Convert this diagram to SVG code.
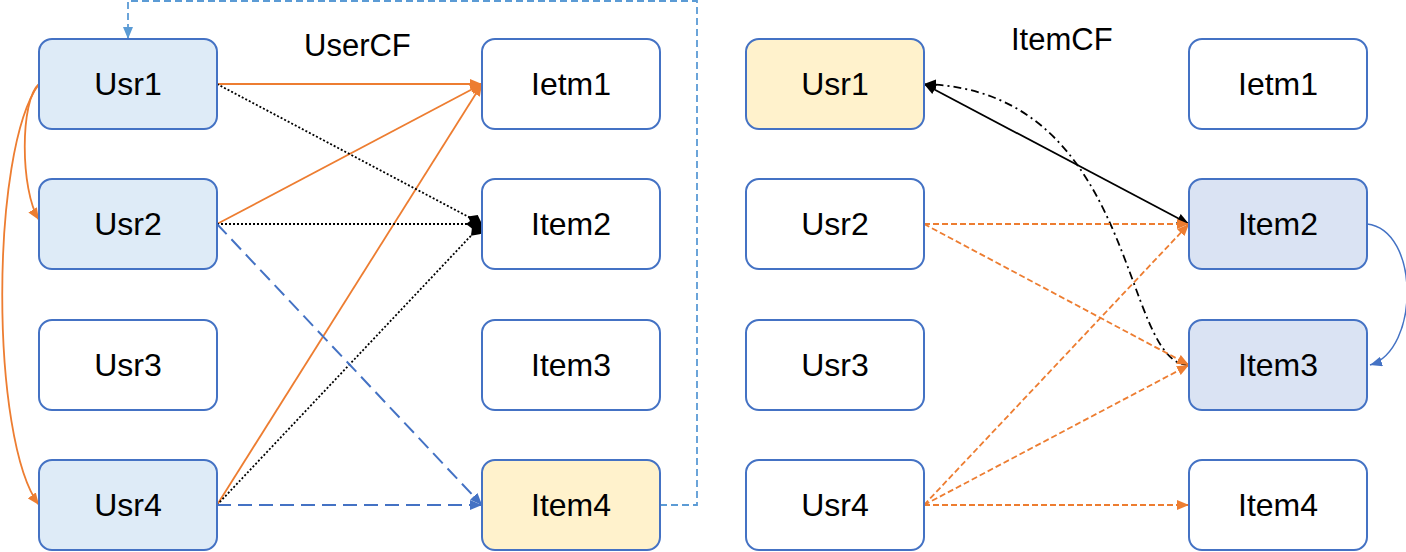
<svg xmlns="http://www.w3.org/2000/svg" width="1406" height="552" viewBox="0 0 1406 552">
<style>
.box{stroke:#4472C4;stroke-width:2}
.w{fill:#FFFFFF}.b{fill:#DEEBF7}.y{fill:#FFF2CC}.b2{fill:#DAE3F3}
.t{font-family:"Liberation Sans",Arial,sans-serif;font-size:32px;fill:#000;text-anchor:middle;dominant-baseline:central}
.ttl{font-family:"Liberation Sans",Arial,sans-serif;font-size:31px;fill:#000}
.or{stroke:#ED7D31;stroke-width:1.8;fill:none}
.ord{stroke:#ED7D31;stroke-width:1.8;fill:none;stroke-dasharray:6 3}
.dot{stroke:#000;stroke-width:1.8;fill:none;stroke-dasharray:2 2}
.bd{stroke:#4472C4;stroke-width:2;fill:none;stroke-dasharray:14 7}
.lbd{stroke:#5B9BD5;stroke-width:1.8;fill:none;stroke-dasharray:7 4}
.blk{stroke:#000;stroke-width:1.8;fill:none}
.dd{stroke:#000;stroke-width:1.8;fill:none;stroke-dasharray:8 4 2 4}
.bc{stroke:#4472C4;stroke-width:1.5;fill:none}
</style>
<defs>
<marker id="aO" viewBox="0 0 12 10" refX="12" refY="5" markerWidth="12" markerHeight="10" markerUnits="userSpaceOnUse" orient="auto"><path d="M0,0L12,5L0,10z" fill="#ED7D31"/></marker>
<marker id="aB" viewBox="0 0 12 10" refX="12" refY="5" markerWidth="12" markerHeight="10" markerUnits="userSpaceOnUse" orient="auto"><path d="M0,0L12,5L0,10z" fill="#4472C4"/></marker>
<marker id="aLB" viewBox="0 0 12 10" refX="12" refY="5" markerWidth="12" markerHeight="10" markerUnits="userSpaceOnUse" orient="auto"><path d="M0,0L12,5L0,10z" fill="#5B9BD5"/></marker>
<marker id="aK" viewBox="0 0 12 10" refX="12" refY="5" markerWidth="12" markerHeight="10" markerUnits="userSpaceOnUse" orient="auto"><path d="M0,0L12,5L0,10z" fill="#000"/></marker>
<marker id="aKs" viewBox="0 0 12 10" refX="0" refY="5" markerWidth="12" markerHeight="10" markerUnits="userSpaceOnUse" orient="auto"><path d="M12,0L0,5L12,10z" fill="#000"/></marker>
<marker id="dK" viewBox="0 0 16 12" refX="16" refY="6" markerWidth="16" markerHeight="12" markerUnits="userSpaceOnUse" orient="auto"><path d="M0,6L8,0L16,6L8,12z" fill="#000"/></marker>
</defs>
<text class="ttl" x="304" y="56">UserCF</text>
<text class="ttl" x="1011" y="50">ItemCF</text>
<g id="connectors">
<path class="or" d="M217,84L482,84" marker-end="url(#aO)"/>
<path class="or" d="M217,224L482,84" marker-end="url(#aO)"/>
<path class="or" d="M217,505L482,84" marker-end="url(#aO)"/>
<path class="dot" d="M217,84L482,224" marker-end="url(#dK)"/>
<path class="dot" d="M217,224L482,224" marker-end="url(#dK)"/>
<path class="dot" d="M217,505L482,224" marker-end="url(#dK)"/>
<path class="bd" d="M217,224L482,505" marker-end="url(#aB)"/>
<path class="bd" d="M217,505L482,505" marker-end="url(#aB)"/>
<path class="lbd" d="M660,505H697V1H128V39" marker-end="url(#aLB)"/>
<path class="or" d="M39,84C20,100 20,190 39,220" marker-end="url(#aO)"/>
<path class="or" d="M39,84C-10,150 -10,440 39,505" marker-end="url(#aO)"/>
<path class="blk" d="M924,84L1189,224" marker-start="url(#aKs)" marker-end="url(#aK)"/>
<path class="dd" d="M1189,365C1120,365 1140,90 924,84" marker-end="url(#aK)"/>
<path class="bc" d="M1367,224C1420,230 1420,350 1370,365" marker-end="url(#aB)"/>
<path class="ord" d="M924,224L1189,224" marker-end="url(#aO)"/>
<path class="ord" d="M924,224L1189,365" marker-end="url(#aO)"/>
<path class="ord" d="M924,505L1189,224" marker-end="url(#aO)"/>
<path class="ord" d="M924,505L1189,365" marker-end="url(#aO)"/>
<path class="ord" d="M924,505L1189,505" marker-end="url(#aO)"/>
</g>
<g id="L-Usr1"><rect class="box b" x="39" y="39" width="178" height="90" rx="13"/><text class="t" x="128" y="84">Usr1</text></g>
<g id="L-Usr2"><rect class="box b" x="39" y="179" width="178" height="90" rx="13"/><text class="t" x="128" y="224">Usr2</text></g>
<g id="L-Usr3"><rect class="box w" x="39" y="320" width="178" height="90" rx="13"/><text class="t" x="128" y="365">Usr3</text></g>
<g id="L-Usr4"><rect class="box b" x="39" y="460" width="178" height="90" rx="13"/><text class="t" x="128" y="505">Usr4</text></g>
<g id="L-Ietm1"><rect class="box w" x="482" y="39" width="178" height="90" rx="13"/><text class="t" x="571" y="84">Ietm1</text></g>
<g id="L-Item2"><rect class="box w" x="482" y="179" width="178" height="90" rx="13"/><text class="t" x="571" y="224">Item2</text></g>
<g id="L-Item3"><rect class="box w" x="482" y="320" width="178" height="90" rx="13"/><text class="t" x="571" y="365">Item3</text></g>
<g id="L-Item4"><rect class="box y" x="482" y="460" width="178" height="90" rx="13"/><text class="t" x="571" y="505">Item4</text></g>
<g id="R-Usr1"><rect class="box y" x="746" y="39" width="178" height="90" rx="13"/><text class="t" x="835" y="84">Usr1</text></g>
<g id="R-Usr2"><rect class="box w" x="746" y="179" width="178" height="90" rx="13"/><text class="t" x="835" y="224">Usr2</text></g>
<g id="R-Usr3"><rect class="box w" x="746" y="320" width="178" height="90" rx="13"/><text class="t" x="835" y="365">Usr3</text></g>
<g id="R-Usr4"><rect class="box w" x="746" y="460" width="178" height="90" rx="13"/><text class="t" x="835" y="505">Usr4</text></g>
<g id="R-Ietm1"><rect class="box w" x="1189" y="39" width="178" height="90" rx="13"/><text class="t" x="1278" y="84">Ietm1</text></g>
<g id="R-Item2"><rect class="box b2" x="1189" y="179" width="178" height="90" rx="13"/><text class="t" x="1278" y="224">Item2</text></g>
<g id="R-Item3"><rect class="box b2" x="1189" y="320" width="178" height="90" rx="13"/><text class="t" x="1278" y="365">Item3</text></g>
<g id="R-Item4"><rect class="box w" x="1189" y="460" width="178" height="90" rx="13"/><text class="t" x="1278" y="505">Item4</text></g>
</svg>
